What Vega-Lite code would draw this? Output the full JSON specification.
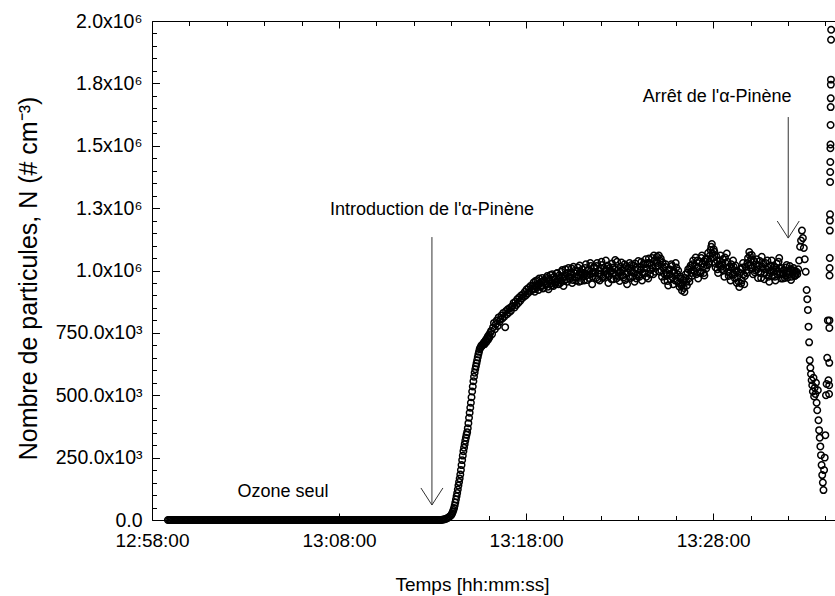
{
"$schema": "https://vega.github.io/schema/vega-lite/v6.json",
"width": 683,
"height": 499,
"autosize": {"type": "none"},
"padding": {"left": 152, "top": 21, "right": 0, "bottom": 76},
"background": "white",
"config": {
  "view": {"stroke": null},
  "axis": {"grid": false, "labelFont": "Liberation Sans", "titleFont": "Liberation Sans", "labelColor": "black", "titleColor": "black", "domainColor": "black", "tickColor": "black", "domainWidth": 1, "tickWidth": 1, "labelOverlap": false, "labelFlush": false, "titleFontWeight": "normal"}
},
"datasets": {
"pts": [
{"t":46731,"n":0},{"t":46735,"n":0},{"t":46739,"n":0},{"t":46743,"n":0},{"t":46747,"n":0},{"t":46751,"n":0},{"t":46755,"n":0},{"t":46759,"n":0},{"t":46763,"n":0},{"t":46767,"n":0},{"t":46771,"n":0},{"t":46775,"n":0},{"t":46779,"n":0},{"t":46783,"n":0},{"t":46787,"n":0},{"t":46791,"n":0},{"t":46795,"n":0},{"t":46799,"n":0},{"t":46803,"n":0},{"t":46807,"n":0},{"t":46811,"n":0},{"t":46815,"n":0},{"t":46819,"n":0},{"t":46823,"n":0},{"t":46827,"n":0},
{"t":46831,"n":0},{"t":46835,"n":0},{"t":46839,"n":0},{"t":46843,"n":0},{"t":46847,"n":0},{"t":46851,"n":0},{"t":46855,"n":0},{"t":46859,"n":0},{"t":46863,"n":0},{"t":46867,"n":0},{"t":46871,"n":0},{"t":46875,"n":0},{"t":46879,"n":0},{"t":46883,"n":0},{"t":46887,"n":0},{"t":46891,"n":0},{"t":46895,"n":0},{"t":46899,"n":0},{"t":46903,"n":0},{"t":46907,"n":0},{"t":46911,"n":0},{"t":46915,"n":0},{"t":46919,"n":0},{"t":46923,"n":0},{"t":46927,"n":0},
{"t":46931,"n":0},{"t":46935,"n":0},{"t":46939,"n":0},{"t":46943,"n":0},{"t":46947,"n":0},{"t":46951,"n":0},{"t":46955,"n":0},{"t":46959,"n":0},{"t":46963,"n":0},{"t":46967,"n":0},{"t":46971,"n":0},{"t":46975,"n":0},{"t":46979,"n":0},{"t":46983,"n":0},{"t":46987,"n":0},{"t":46991,"n":0},{"t":46995,"n":0},{"t":46999,"n":0},{"t":47003,"n":0},{"t":47007,"n":0},{"t":47011,"n":0},{"t":47015,"n":0},{"t":47019,"n":0},{"t":47023,"n":0},{"t":47027,"n":0},
{"t":47031,"n":0},{"t":47035,"n":0},{"t":47039,"n":0},{"t":47043,"n":0},{"t":47047,"n":0},{"t":47051,"n":0},{"t":47055,"n":0},{"t":47059,"n":0},{"t":47063,"n":0},{"t":47067,"n":0},{"t":47071,"n":0},{"t":47075,"n":0},{"t":47079,"n":0},{"t":47083,"n":0},{"t":47087,"n":0},{"t":47091,"n":0},{"t":47095,"n":0},{"t":47099,"n":0},{"t":47103,"n":0},{"t":47107,"n":0},{"t":47111,"n":0},{"t":47115,"n":0},{"t":47119,"n":0},{"t":47123,"n":0},{"t":47127,"n":0},
{"t":47131,"n":0},{"t":47135,"n":0},{"t":47139,"n":0},{"t":47143,"n":0},{"t":47147,"n":0},{"t":47151,"n":0},{"t":47155,"n":0},{"t":47159,"n":0},{"t":47163,"n":0},{"t":47167,"n":0},{"t":47171,"n":0},{"t":47175,"n":0},{"t":47179,"n":0},{"t":47183,"n":0},{"t":47187,"n":0},{"t":47191,"n":0},{"t":47195,"n":0},{"t":47199,"n":0},{"t":47203,"n":0},{"t":47207,"n":0},{"t":47211,"n":0},{"t":47215,"n":0},{"t":47219,"n":0},{"t":47223,"n":0},{"t":47227,"n":0},
{"t":47231,"n":0},{"t":47235,"n":0},{"t":47239,"n":0},{"t":47243,"n":0},{"t":47247,"n":0},{"t":47251,"n":0},{"t":47255,"n":0},{"t":47259,"n":0},{"t":47263,"n":0},{"t":47267,"n":0},{"t":47271,"n":0},{"t":47275,"n":0},{"t":47279,"n":0},{"t":47283,"n":0},{"t":47287,"n":0},{"t":47291,"n":0},{"t":47295,"n":0},{"t":47299,"n":0},{"t":47303,"n":0},{"t":47307,"n":0},{"t":47311,"n":0},{"t":47315,"n":0},{"t":47319,"n":0},{"t":47323,"n":0},{"t":47327,"n":0},
{"t":47331,"n":0},{"t":47335,"n":0},{"t":47339,"n":0},{"t":47343,"n":0},{"t":47347,"n":0},{"t":47351,"n":0},{"t":47355,"n":0},{"t":47359,"n":0},{"t":47363,"n":0},{"t":47367,"n":0},{"t":47371,"n":0},{"t":47375,"n":0},{"t":47379,"n":0},{"t":47383,"n":0},{"t":47387,"n":0},{"t":47391,"n":0},{"t":47395,"n":0},{"t":47399,"n":0},{"t":47403,"n":0},{"t":47407,"n":0},{"t":47411,"n":0},{"t":47415,"n":0},{"t":47419,"n":0},{"t":47423,"n":0},{"t":47427,"n":0},
{"t":47431,"n":0},{"t":47435,"n":0},{"t":47439,"n":0},{"t":47443,"n":0},{"t":47447,"n":0},{"t":47451,"n":0},{"t":47455,"n":0},{"t":47459,"n":0},{"t":47463,"n":0},{"t":47467,"n":0},{"t":47471,"n":0},{"t":47475,"n":0},{"t":47479,"n":0},{"t":47483,"n":0},{"t":47487,"n":0},{"t":47491,"n":0},{"t":47495,"n":0},{"t":47499,"n":0},{"t":47503,"n":0},{"t":47507,"n":0},{"t":47511,"n":0},{"t":47515,"n":0},{"t":47519,"n":0},{"t":47523,"n":0},{"t":47527,"n":0},
{"t":47531,"n":0},{"t":47535,"n":0},{"t":47539,"n":0},{"t":47543,"n":0},{"t":47547,"n":0},{"t":47551,"n":0},{"t":47555,"n":0},{"t":47559,"n":0},{"t":47563,"n":0},{"t":47567,"n":0},{"t":47571,"n":0},{"t":47575,"n":0},{"t":47579,"n":0},{"t":47583,"n":0},{"t":47587,"n":0},{"t":47591,"n":0},{"t":47595,"n":0},{"t":47599,"n":0},{"t":47603,"n":0},{"t":47607,"n":0},
{"t":47611,"n":1000},{"t":47615,"n":2000},{"t":47619,"n":3000},{"t":47623,"n":5000},{"t":47627,"n":7000},{"t":47631,"n":10000},{"t":47635,"n":14000},{"t":47639,"n":18000},
{"t":47641,"n":22000},{"t":47643,"n":27000},{"t":47645,"n":33000},{"t":47647,"n":40000},{"t":47649,"n":48000},{"t":47651,"n":58000},{"t":47653,"n":70000},{"t":47655,"n":82000},{"t":47657,"n":95000},{"t":47659,"n":108000},
{"t":47661,"n":122000},{"t":47663,"n":138000},{"t":47665,"n":152000},{"t":47667,"n":166000},{"t":47669,"n":182000},{"t":47671,"n":200000},{"t":47673,"n":220000},{"t":47675,"n":240000},{"t":47677,"n":258000},{"t":47679,"n":276000},
{"t":47681,"n":290000},{"t":47683,"n":304000},{"t":47685,"n":318000},{"t":47687,"n":330000},{"t":47689,"n":342000},{"t":47691,"n":352000},{"t":47693,"n":368000},{"t":47695,"n":388000},{"t":47697,"n":410000},{"t":47699,"n":430000},
{"t":47701,"n":450000},{"t":47703,"n":470000},{"t":47705,"n":492000},{"t":47707,"n":515000},{"t":47709,"n":535000},{"t":47711,"n":556000},{"t":47713,"n":574000},{"t":47715,"n":590000},{"t":47717,"n":604000},{"t":47719,"n":616000},
{"t":47721,"n":628000},{"t":47723,"n":640000},{"t":47725,"n":652000},{"t":47727,"n":664000},{"t":47729,"n":674000},{"t":47731,"n":684000},{"t":47733,"n":690000},{"t":47735,"n":694000},{"t":47737,"n":700000},{"t":47739,"n":698000},
{"t":47741,"n":703000},{"t":47743,"n":706000},{"t":47745,"n":712000},{"t":47747,"n":705000},{"t":47749,"n":716000},{"t":47751,"n":722000},{"t":47753,"n":714000},{"t":47755,"n":728000},{"t":47757,"n":735000},{"t":47759,"n":724000},
{"t":47761,"n":742000},{"t":47763,"n":733000},{"t":47765,"n":750000},
{"t":47768,"n":758000},{"t":47771,"n":745000},{"t":47774,"n":772000},{"t":47777,"n":790000},{"t":47780,"n":765000},{"t":47783,"n":785000},{"t":47786,"n":800000},{"t":47789,"n":778000},{"t":47792,"n":812000},{"t":47795,"n":795000},
{"t":47798,"n":805000},{"t":47801,"n":820000},{"t":47804,"n":808000},{"t":47807,"n":830000},{"t":47810,"n":815000},{"t":47813,"n":773000},{"t":47816,"n":838000},{"t":47819,"n":825000},{"t":47822,"n":845000},{"t":47825,"n":832000},
{"t":47828,"n":850000},{"t":47831,"n":838000},{"t":47834,"n":855000},{"t":47837,"n":858000},{"t":47840,"n":870000},{"t":47843,"n":852000},{"t":47846,"n":875000},{"t":47849,"n":862000},{"t":47852,"n":885000},{"t":47855,"n":870000},
{"t":47858,"n":892000},{"t":47861,"n":878000},{"t":47864,"n":900000},{"t":47867,"n":888000},{"t":47870,"n":905000},{"t":47873,"n":895000},{"t":47876,"n":915000},{"t":47879,"n":900000},{"t":47882,"n":925000},{"t":47885,"n":908000},
{"t":47888,"n":930000},{"t":47891,"n":915000},{"t":47894,"n":938000},{"t":47897,"n":920000},
{"t":47900,"n":928000},{"t":47904,"n":952000},{"t":47908,"n":915000},{"t":47912,"n":940000},{"t":47916,"n":961000},{"t":47920,"n":922000},{"t":47924,"n":948000},{"t":47928,"n":935000},{"t":47932,"n":970000},{"t":47936,"n":930000},
{"t":47940,"n":955000},{"t":47944,"n":942000},{"t":47948,"n":978000},{"t":47952,"n":925000},{"t":47956,"n":960000},{"t":47960,"n":948000},{"t":47964,"n":985000},{"t":47968,"n":938000},{"t":47972,"n":966000},{"t":47976,"n":952000},
{"t":47980,"n":990000},{"t":47984,"n":945000},{"t":47988,"n":972000},{"t":47992,"n":960000},{"t":47996,"n":1002000},{"t":48000,"n":938000},{"t":48004,"n":975000},{"t":48008,"n":988000},{"t":48012,"n":955000},{"t":48016,"n":1010000},
{"t":48020,"n":968000},{"t":48024,"n":992000},{"t":48028,"n":950000},{"t":48032,"n":1015000},{"t":48036,"n":975000},{"t":48040,"n":960000},{"t":48044,"n":998000},{"t":48048,"n":982000},{"t":48052,"n":1020000},{"t":48056,"n":958000},
{"t":48060,"n":1005000},{"t":48064,"n":975000},{"t":48068,"n":990000},{"t":48072,"n":1025000},{"t":48076,"n":962000},{"t":48080,"n":1000000},{"t":48084,"n":985000},{"t":48088,"n":1018000},{"t":48092,"n":945000},{"t":48096,"n":995000},
{"t":48100,"n":1012000},{"t":48104,"n":970000},{"t":48108,"n":1030000},{"t":48112,"n":988000},{"t":48116,"n":960000},{"t":48120,"n":1008000},{"t":48124,"n":1022000},{"t":48128,"n":975000},{"t":48132,"n":995000},{"t":48136,"n":1040000},
{"t":48140,"n":985000},{"t":48144,"n":950000},{"t":48148,"n":1010000},{"t":48152,"n":998000},{"t":48156,"n":1028000},{"t":48160,"n":965000},{"t":48164,"n":1005000},{"t":48168,"n":980000},{"t":48172,"n":1035000},{"t":48176,"n":990000},
{"t":48180,"n":958000},{"t":48184,"n":1015000},{"t":48188,"n":1000000},{"t":48192,"n":972000},{"t":48196,"n":1025000},{"t":48200,"n":988000},{"t":48204,"n":945000},{"t":48208,"n":1008000},{"t":48212,"n":1030000},{"t":48216,"n":970000},
{"t":48220,"n":995000},{"t":48224,"n":1020000},{"t":48228,"n":955000},{"t":48232,"n":1012000},{"t":48236,"n":985000},{"t":48240,"n":1038000},{"t":48244,"n":975000},{"t":48248,"n":1002000},{"t":48252,"n":960000},{"t":48256,"n":1025000},
{"t":48260,"n":990000},{"t":48264,"n":1045000},{"t":48268,"n":1010000},{"t":48272,"n":968000},{"t":48276,"n":1030000},{"t":48280,"n":1002000},{"t":48284,"n":1050000},{"t":48288,"n":985000},{"t":48292,"n":1040000},{"t":48296,"n":1015000},
{"t":48300,"n":1055000},{"t":48304,"n":1020000},{"t":48308,"n":995000},{"t":48312,"n":1048000},{"t":48316,"n":975000},{"t":48320,"n":1010000},{"t":48324,"n":960000},{"t":48328,"n":1025000},{"t":48332,"n":990000},{"t":48336,"n":940000},
{"t":48340,"n":1005000},{"t":48344,"n":965000},{"t":48348,"n":1018000},{"t":48352,"n":945000},{"t":48356,"n":990000},{"t":48360,"n":1030000},{"t":48364,"n":958000},{"t":48368,"n":1000000},{"t":48372,"n":935000},{"t":48376,"n":975000},
{"t":48380,"n":920000},{"t":48384,"n":962000},{"t":48388,"n":914000},{"t":48392,"n":985000},{"t":48396,"n":940000},{"t":48400,"n":1005000},{"t":48404,"n":955000},{"t":48408,"n":1020000},{"t":48412,"n":978000},{"t":48416,"n":1040000},
{"t":48420,"n":995000},{"t":48424,"n":1052000},{"t":48428,"n":1010000},{"t":48432,"n":968000},{"t":48436,"n":1035000},{"t":48440,"n":990000},{"t":48444,"n":1060000},{"t":48448,"n":1015000},{"t":48452,"n":980000},{"t":48456,"n":1045000},
{"t":48460,"n":1020000},{"t":48464,"n":1070000},{"t":48468,"n":1035000},{"t":48472,"n":1082000},{"t":48476,"n":1106000},{"t":48480,"n":1050000},{"t":48484,"n":1075000},{"t":48488,"n":1012000},{"t":48492,"n":1040000},{"t":48496,"n":990000},
{"t":48500,"n":1025000},{"t":48504,"n":1060000},{"t":48508,"n":1005000},{"t":48512,"n":1045000},{"t":48516,"n":975000},{"t":48520,"n":1030000},{"t":48524,"n":1068000},{"t":48528,"n":995000},{"t":48532,"n":1015000},{"t":48536,"n":960000},
{"t":48540,"n":1010000},{"t":48544,"n":1040000},{"t":48548,"n":985000},{"t":48552,"n":1020000},{"t":48556,"n":950000},{"t":48560,"n":995000},{"t":48564,"n":934000},{"t":48568,"n":1005000},{"t":48572,"n":960000},{"t":48576,"n":1030000},
{"t":48580,"n":945000},{"t":48584,"n":1015000},{"t":48588,"n":990000},{"t":48592,"n":1050000},{"t":48596,"n":1074000},{"t":48600,"n":1020000},{"t":48604,"n":1062000},{"t":48608,"n":985000},{"t":48612,"n":1035000},{"t":48616,"n":1000000},
{"t":48620,"n":1045000},{"t":48624,"n":970000},{"t":48628,"n":1020000},{"t":48632,"n":990000},{"t":48636,"n":1055000},{"t":48640,"n":1008000},{"t":48644,"n":965000},{"t":48648,"n":1030000},{"t":48652,"n":982000},{"t":48656,"n":1012000},
{"t":48660,"n":955000},{"t":48664,"n":1000000},{"t":48668,"n":1040000},{"t":48672,"n":978000},{"t":48676,"n":1015000},{"t":48680,"n":960000},{"t":48684,"n":1028000},{"t":48688,"n":995000},{"t":48692,"n":1050000},{"t":48696,"n":985000},
{"t":48700,"n":1010000},{"t":48704,"n":968000},{"t":48708,"n":1000000},{"t":48712,"n":980000},{"t":48716,"n":1022000},{"t":48720,"n":972000},{"t":48724,"n":995000},{"t":48728,"n":1005000},{"t":48732,"n":975000},{"t":48736,"n":990000},
{"t":48740,"n":1000000},{"t":48744,"n":980000},{"t":48748,"n":995000},
{"t":47902,"n":940000},{"t":47906,"n":925000},{"t":47910,"n":958000},{"t":47914,"n":932000},{"t":47918,"n":945000},{"t":47922,"n":968000},{"t":47926,"n":938000},{"t":47930,"n":955000},{"t":47934,"n":928000},{"t":47938,"n":962000},
{"t":47942,"n":948000},{"t":47946,"n":970000},{"t":47950,"n":935000},{"t":47954,"n":965000},{"t":47958,"n":982000},{"t":47962,"n":940000},{"t":47966,"n":958000},{"t":47970,"n":975000},{"t":47974,"n":945000},{"t":47978,"n":988000},
{"t":47982,"n":962000},{"t":47986,"n":980000},{"t":47990,"n":950000},{"t":47994,"n":995000},{"t":47998,"n":970000},{"t":48002,"n":958000},{"t":48006,"n":1005000},{"t":48010,"n":965000},{"t":48014,"n":990000},{"t":48018,"n":975000},
{"t":48022,"n":985000},{"t":48026,"n":1008000},{"t":48030,"n":962000},{"t":48034,"n":990000},{"t":48038,"n":1000000},{"t":48042,"n":972000},{"t":48046,"n":1012000},{"t":48050,"n":955000},{"t":48054,"n":995000},{"t":48058,"n":985000},
{"t":48062,"n":990000},{"t":48066,"n":960000},{"t":48070,"n":1010000},{"t":48074,"n":980000},{"t":48078,"n":1002000},{"t":48082,"n":970000},{"t":48086,"n":1030000},{"t":48090,"n":988000},{"t":48094,"n":975000},{"t":48098,"n":1015000},
{"t":48102,"n":990000},{"t":48106,"n":1018000},{"t":48110,"n":965000},{"t":48114,"n":1000000},{"t":48118,"n":985000},{"t":48122,"n":1035000},{"t":48126,"n":970000},{"t":48130,"n":1010000},{"t":48134,"n":982000},{"t":48138,"n":1002000},
{"t":48142,"n":1020000},{"t":48146,"n":978000},{"t":48150,"n":995000},{"t":48154,"n":965000},{"t":48158,"n":1012000},{"t":48162,"n":990000},{"t":48166,"n":1042000},{"t":48170,"n":968000},{"t":48174,"n":1002000},{"t":48178,"n":975000},
{"t":48182,"n":995000},{"t":48186,"n":1032000},{"t":48190,"n":980000},{"t":48194,"n":1010000},{"t":48198,"n":962000},{"t":48202,"n":1018000},{"t":48206,"n":992000},{"t":48210,"n":975000},{"t":48214,"n":1000000},{"t":48218,"n":1022000},
{"t":48222,"n":975000},{"t":48226,"n":990000},{"t":48230,"n":1028000},{"t":48234,"n":968000},{"t":48238,"n":1005000},{"t":48242,"n":982000},{"t":48246,"n":1015000},{"t":48250,"n":1035000},{"t":48254,"n":990000},{"t":48258,"n":1008000},
{"t":48262,"n":1025000},{"t":48266,"n":975000},{"t":48270,"n":1030000},{"t":48274,"n":1048000},{"t":48278,"n":985000},{"t":48282,"n":1020000},{"t":48286,"n":1010000},{"t":48290,"n":1060000},{"t":48294,"n":995000},{"t":48298,"n":1035000},
{"t":48302,"n":1030000},{"t":48306,"n":1060000},{"t":48310,"n":1040000},{"t":48314,"n":1000000},{"t":48318,"n":1032000},{"t":48322,"n":988000},{"t":48326,"n":1015000},{"t":48330,"n":978000},{"t":48334,"n":958000},{"t":48338,"n":1002000},
{"t":48342,"n":985000},{"t":48346,"n":1025000},{"t":48350,"n":972000},{"t":48354,"n":998000},{"t":48358,"n":960000},{"t":48362,"n":1012000},{"t":48366,"n":985000},{"t":48370,"n":950000},{"t":48374,"n":968000},{"t":48378,"n":940000},
{"t":48382,"n":945000},{"t":48386,"n":930000},{"t":48390,"n":970000},{"t":48394,"n":955000},{"t":48398,"n":992000},{"t":48402,"n":968000},{"t":48406,"n":1010000},{"t":48410,"n":990000},{"t":48414,"n":1025000},{"t":48418,"n":1000000},
{"t":48422,"n":1020000},{"t":48426,"n":985000},{"t":48430,"n":1040000},{"t":48434,"n":1012000},{"t":48438,"n":995000},{"t":48442,"n":1050000},{"t":48446,"n":1028000},{"t":48450,"n":990000},{"t":48454,"n":1035000},{"t":48458,"n":1008000},
{"t":48462,"n":1045000},{"t":48466,"n":1025000},{"t":48470,"n":1060000},{"t":48474,"n":1095000},{"t":48478,"n":1068000},{"t":48482,"n":1085000},{"t":48486,"n":1030000},{"t":48490,"n":1058000},{"t":48494,"n":1005000},{"t":48498,"n":1022000},
{"t":48502,"n":1040000},{"t":48506,"n":1015000},{"t":48510,"n":1030000},{"t":48514,"n":1000000},{"t":48518,"n":1052000},{"t":48522,"n":1010000},{"t":48526,"n":1035000},{"t":48530,"n":978000},{"t":48534,"n":990000},{"t":48538,"n":1025000},
{"t":48542,"n":985000},{"t":48546,"n":1015000},{"t":48550,"n":968000},{"t":48554,"n":998000},{"t":48558,"n":975000},{"t":48562,"n":955000},{"t":48566,"n":990000},{"t":48570,"n":948000},{"t":48574,"n":1012000},{"t":48578,"n":985000},
{"t":48582,"n":978000},{"t":48586,"n":1000000},{"t":48590,"n":1030000},{"t":48594,"n":1020000},{"t":48598,"n":1060000},{"t":48602,"n":1045000},{"t":48606,"n":1010000},{"t":48610,"n":1040000},{"t":48614,"n":992000},{"t":48618,"n":1025000},
{"t":48622,"n":1005000},{"t":48626,"n":995000},{"t":48630,"n":1038000},{"t":48634,"n":970000},{"t":48638,"n":1015000},{"t":48642,"n":1028000},{"t":48646,"n":990000},{"t":48650,"n":1005000},{"t":48654,"n":1040000},{"t":48658,"n":975000},
{"t":48662,"n":990000},{"t":48666,"n":1020000},{"t":48670,"n":1005000},{"t":48674,"n":995000},{"t":48678,"n":975000},{"t":48682,"n":1010000},{"t":48686,"n":985000},{"t":48690,"n":1035000},{"t":48694,"n":1008000},{"t":48698,"n":968000},
{"t":48702,"n":985000},{"t":48706,"n":1002000},{"t":48710,"n":970000},{"t":48714,"n":1012000},{"t":48718,"n":995000},{"t":48722,"n":985000},{"t":48726,"n":1018000},{"t":48730,"n":962000},{"t":48734,"n":1000000},{"t":48738,"n":1010000},
{"t":48742,"n":978000},{"t":48746,"n":990000},
{"t":48750,"n":985000},{"t":48753,"n":1005000},{"t":48756,"n":1040000},{"t":48759,"n":1095000},{"t":48762,"n":1120000},{"t":48765,"n":1160000},{"t":48768,"n":1130000},{"t":48771,"n":1090000},{"t":48774,"n":1045000},{"t":48777,"n":995000},
{"t":48780,"n":922000},{"t":48782,"n":885000},{"t":48784,"n":842000},{"t":48786,"n":775000},{"t":48788,"n":712000},{"t":48790,"n":640000},{"t":48792,"n":610000},{"t":48794,"n":585000},{"t":48796,"n":560000},{"t":48798,"n":540000},
{"t":48800,"n":515000},{"t":48802,"n":570000},{"t":48804,"n":495000},{"t":48806,"n":530000},{"t":48808,"n":505000},{"t":48810,"n":550000},{"t":48812,"n":470000},{"t":48814,"n":440000},{"t":48816,"n":520000},{"t":48818,"n":400000},
{"t":48820,"n":360000},{"t":48822,"n":330000},{"t":48824,"n":295000},{"t":48826,"n":260000},{"t":48828,"n":220000},{"t":48830,"n":180000},{"t":48832,"n":150000},{"t":48834,"n":120000},{"t":48836,"n":200000},{"t":48838,"n":250000},
{"t":48840,"n":340000},{"t":48842,"n":500000},{"t":48844,"n":545000},{"t":48846,"n":650000},{"t":48848,"n":800000},{"t":48850,"n":560000},
{"t":48852,"n":505000},{"t":48852.3,"n":540000},{"t":48852.6,"n":630000},{"t":48852.9,"n":770000},{"t":48853.2,"n":800000},{"t":48853.5,"n":980000},{"t":48853.8,"n":1010000},{"t":48854.1,"n":1050000},{"t":48854.4,"n":1160000},{"t":48854.7,"n":1200000},
{"t":48855,"n":1225000},{"t":48855.3,"n":1355000},{"t":48855.6,"n":1395000},{"t":48855.9,"n":1435000},{"t":48856.2,"n":1490000},{"t":48856.5,"n":1505000},{"t":48856.8,"n":1583000},{"t":48857.1,"n":1655000},{"t":48857.4,"n":1690000},{"t":48857.7,"n":1745000},
{"t":48858,"n":1765000},{"t":48858.3,"n":1925000},{"t":48858.6,"n":1965000}
],
"arrows": [
{"t":47578,"n":60000,"n2":1134000},
{"t":48721,"n":1130000,"n2":1615000}
],
"notes": [
{"t":47578,"n":1242000,"label":"Introduction de l'α-Pinène"},
{"t":48493,"n":1695000,"label":"Arrêt de l'α-Pinène"},
{"t":47100,"n":112000,"label":"Ozone seul"}
],
"empty": []
},
"layer": [
{
  "data": {"name": "pts"},
  "mark": {"type": "point", "shape": "circle", "filled": false, "stroke": "black", "strokeWidth": 1.5, "size": 42, "opacity": 1, "clip": false},
  "encoding": {
    "x": {"field": "t", "type": "quantitative", "scale": {"domain": [46680, 48871], "nice": false, "zero": false},
      "axis": {"orient": "bottom", "values": [46680, 47280, 47880, 48480], "ticks": false, "domain": true, "labelFontSize": 19, "labelPadding": 11,
        "labelExpr": "timeFormat(datetime(2000,0,1,0,0,datum.value),'%H:%M:%S')",
        "title": "Temps [hh:mm:ss]", "titleFontSize": 19, "titleX": 320, "titleY": 70, "titleAlign": "center", "titleBaseline": "alphabetic"}},
    "y": {"field": "n", "type": "quantitative", "scale": {"domain": [0, 2000000], "nice": false, "zero": true},
      "axis": {"orient": "left", "values": [0, 250000, 500000, 750000, 1000000, 1250000, 1500000, 1750000, 2000000], "ticks": false, "domain": true, "labelFontSize": 19.5, "labelPadding": 10,
        "labelExpr": "datum.value == 0 ? '0.0' : (datum.value < 1000000 ? format(datum.value/1000, '.1f') + 'x10³' : format(datum.value/1000000, '.1f') + 'x10⁶')",
        "title": "Nombre de particules, N (# cm⁻³)", "titleFontSize": 25, "titleX": -124, "titleY": 257, "titleAlign": "center", "titleBaseline": "middle", "titleAngle": -90}}
  }
},
{
  "data": {"name": "empty"},
  "mark": {"type": "point"},
  "encoding": {
    "x": {"field": "t", "type": "quantitative", "scale": {"domain": [46680, 48871], "nice": false, "zero": false},
      "axis": {"orient": "bottom", "values": [46680, 47280, 47880, 48480], "domain": false, "labels": false, "title": null, "tickSize": 7, "offset": -7}},
    "y": {"field": "n", "type": "quantitative", "scale": {"domain": [0, 2000000], "nice": false, "zero": true},
      "axis": {"orient": "left", "values": [0, 250000, 500000, 750000, 1000000, 1250000, 1500000, 1750000, 2000000], "domain": false, "labels": false, "title": null, "tickSize": 7.5, "offset": -7.5}}
  }
},
{
  "data": {"name": "empty"},
  "mark": {"type": "point"},
  "encoding": {
    "x": {"field": "t", "type": "quantitative", "scale": {"domain": [46680, 48871], "nice": false, "zero": false},
      "axis": {"orient": "bottom", "values": [46800, 46920, 47040, 47160, 47400, 47520, 47640, 47760, 48000, 48120, 48240, 48360, 48600, 48720, 48840], "domain": false, "labels": false, "title": null, "tickSize": 4.5, "offset": -4.5}},
    "y": {"field": "n", "type": "quantitative", "scale": {"domain": [0, 2000000], "nice": false, "zero": true},
      "axis": {"orient": "left", "values": [50000, 100000, 150000, 200000, 300000, 350000, 400000, 450000, 550000, 600000, 650000, 700000, 800000, 850000, 900000, 950000, 1050000, 1100000, 1150000, 1200000, 1300000, 1350000, 1400000, 1450000, 1550000, 1600000, 1650000, 1700000, 1800000, 1850000, 1900000, 1950000], "domain": false, "labels": false, "title": null, "tickSize": 4.5, "offset": -4.5}}
  }
},
{
  "data": {"name": "empty"},
  "mark": {"type": "point"},
  "encoding": {
    "x": {"field": "t", "type": "quantitative", "scale": {"domain": [46680, 48871], "nice": false, "zero": false},
      "axis": {"orient": "top", "ticks": false, "domain": true, "labels": false, "title": null}},
    "y": {"field": "n", "type": "quantitative", "scale": {"domain": [0, 2000000], "nice": false, "zero": true}, "axis": null}
  }
},
{
  "data": {"name": "empty"},
  "mark": {"type": "point"},
  "encoding": {
    "x": {"field": "t", "type": "quantitative", "scale": {"domain": [46680, 48871], "nice": false, "zero": false},
      "axis": {"orient": "top", "values": [46680, 47280, 47880, 48480], "domain": false, "labels": false, "title": null, "tickSize": 7, "offset": -7}},
    "y": {"field": "n", "type": "quantitative", "scale": {"domain": [0, 2000000], "nice": false, "zero": true}, "axis": null}
  }
},
{
  "data": {"name": "empty"},
  "mark": {"type": "point"},
  "encoding": {
    "x": {"field": "t", "type": "quantitative", "scale": {"domain": [46680, 48871], "nice": false, "zero": false},
      "axis": {"orient": "top", "values": [46800, 46920, 47040, 47160, 47400, 47520, 47640, 47760, 48000, 48120, 48240, 48360, 48600, 48720, 48840], "domain": false, "labels": false, "title": null, "tickSize": 4.5, "offset": -4.5}},
    "y": {"field": "n", "type": "quantitative", "scale": {"domain": [0, 2000000], "nice": false, "zero": true}, "axis": null}
  }
},
{
  "data": {"name": "arrows"},
  "mark": {"type": "rule", "color": "#333333", "strokeWidth": 1},
  "encoding": {
    "x": {"field": "t", "type": "quantitative", "axis": null},
    "y": {"field": "n", "type": "quantitative", "axis": null},
    "y2": {"field": "n2"}
  }
},
{
  "data": {"name": "arrows"},
  "mark": {"type": "point", "shape": "M-1,-1.55L0,0L1,-1.55", "filled": false, "stroke": "#333333", "strokeWidth": 1, "size": 484, "opacity": 1},
  "encoding": {
    "x": {"field": "t", "type": "quantitative", "axis": null},
    "y": {"field": "n", "type": "quantitative", "axis": null}
  }
},
{
  "data": {"name": "notes"},
  "mark": {"type": "text", "font": "Liberation Sans", "fontSize": 18, "align": "center", "baseline": "middle", "color": "black"},
  "encoding": {
    "x": {"field": "t", "type": "quantitative", "axis": null},
    "y": {"field": "n", "type": "quantitative", "axis": null},
    "text": {"field": "label"}
  }
}
],
"resolve": {"axis": {"x": "independent", "y": "independent"}}
}
